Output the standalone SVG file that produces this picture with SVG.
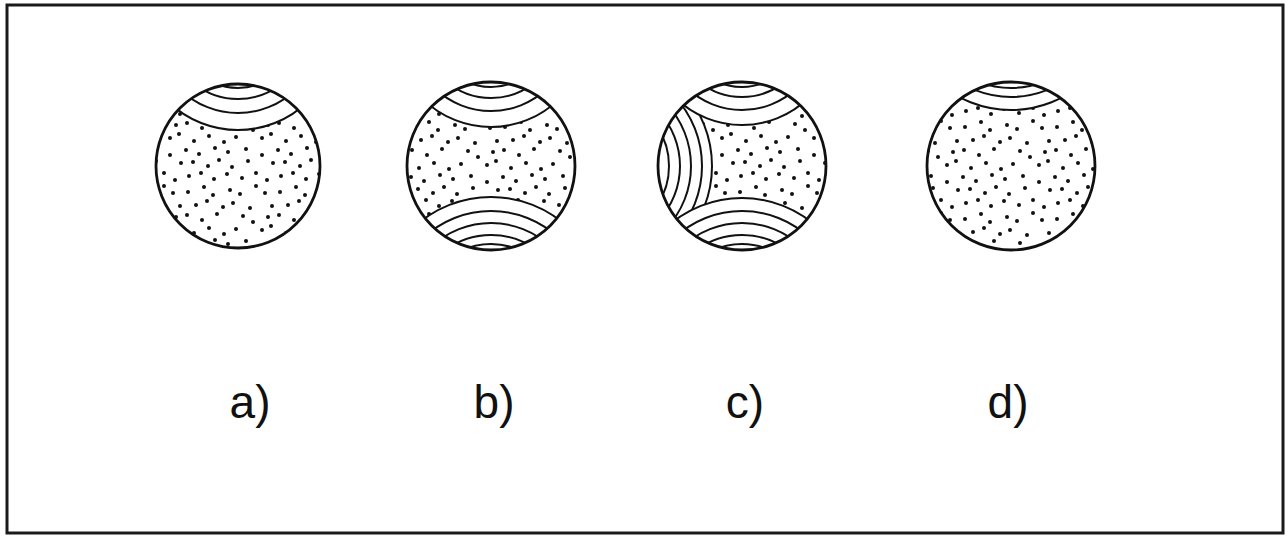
<svg xmlns="http://www.w3.org/2000/svg" xmlns:xlink="http://www.w3.org/1999/xlink" width="1286" height="536" viewBox="0 0 1286 536">
<style>
.frame{fill:#fff;stroke:#1a1a1a;stroke-width:3}
.cap{fill:#fff;stroke:#111;stroke-width:2}
.arc{fill:none;stroke:#111;stroke-width:2}
.outline{fill:none;stroke:#111;stroke-width:2.8}
.dot{fill:#111}
.lbl{font-family:"Liberation Sans","DejaVu Sans",sans-serif;font-size:46px;fill:#111;text-anchor:middle}
</style>
<defs>
<pattern id="dots" patternUnits="userSpaceOnUse" width="92" height="92">
<g class="dot">
<circle cx="4" cy="8" r="2"/><circle cx="20" cy="3" r="2"/><circle cx="29" cy="11" r="2"/><circle cx="46" cy="6" r="2"/><circle cx="56" cy="10" r="2"/><circle cx="72" cy="2" r="2"/><circle cx="81" cy="9" r="2"/>
<circle cx="12" cy="21" r="2"/><circle cx="23" cy="17" r="2"/><circle cx="39" cy="23" r="2"/><circle cx="49" cy="19" r="2"/><circle cx="66" cy="24" r="2"/><circle cx="88" cy="22" r="2"/>
<circle cx="3" cy="31" r="2"/><circle cx="18" cy="36" r="2"/><circle cx="33" cy="30" r="2"/><circle cx="59" cy="32" r="2"/><circle cx="69" cy="38" r="2"/><circle cx="84" cy="33" r="2"/>
<circle cx="10" cy="49" r="2"/><circle cx="25" cy="44" r="2"/><circle cx="40" cy="50" r="2"/><circle cx="52" cy="45" r="2"/><circle cx="78" cy="46" r="2"/><circle cx="87" cy="42" r="2"/>
<circle cx="2" cy="58" r="2"/><circle cx="15" cy="62" r="2"/><circle cx="31" cy="56" r="2"/><circle cx="44" cy="60" r="2"/><circle cx="62" cy="57" r="2"/><circle cx="78" cy="63" r="2"/>
<circle cx="9" cy="70" r="2"/><circle cx="24" cy="74" r="2"/><circle cx="35" cy="68" r="2"/><circle cx="48" cy="75" r="2"/><circle cx="64" cy="69" r="2"/><circle cx="89" cy="71" r="2"/>
<circle cx="5" cy="84" r="2"/><circle cx="17" cy="81" r="2"/><circle cx="30" cy="87" r="2"/><circle cx="43" cy="82" r="2"/><circle cx="58" cy="86" r="2"/><circle cx="72" cy="81" r="2"/><circle cx="83" cy="88" r="2"/>
</g>
</pattern>
<pattern id="dots2" href="#dots" patternTransform="translate(41,27)"/>
<clipPath id="ca"><circle cx="238" cy="166" r="82"/></clipPath>
<clipPath id="cb"><circle cx="491" cy="166" r="84"/></clipPath>
<clipPath id="cc"><circle cx="742" cy="166" r="84"/></clipPath>
<clipPath id="cd"><circle cx="1011" cy="166" r="84"/></clipPath>
</defs>

<rect id="frame" class="frame" x="7" y="5" width="1276" height="528"/>

<g id="grain-a">
<g clip-path="url(#ca)">
<circle cx="238" cy="166" r="82" fill="url(#dots)"/>
<circle class="cap" cx="238" cy="30" r="100"/>
<circle class="arc" cx="238" cy="30" r="83"/>
<circle class="arc" cx="238" cy="30" r="69"/>
<circle class="arc" cx="238" cy="30" r="58"/>
</g>
<circle class="outline" cx="238" cy="166" r="82"/>
</g>

<g id="grain-b">
<g clip-path="url(#cb)">
<circle cx="491" cy="166" r="84" fill="url(#dots2)"/>
<circle class="cap" cx="491" cy="30" r="97"/>
<circle class="arc" cx="491" cy="30" r="81"/>
<circle class="arc" cx="491" cy="30" r="68"/>
<circle class="arc" cx="491" cy="30" r="57"/>
<circle class="cap" cx="491" cy="310" r="113"/>
<circle class="arc" cx="491" cy="310" r="99"/>
<circle class="arc" cx="491" cy="310" r="87"/>
<circle class="arc" cx="491" cy="310" r="75"/>
<circle class="arc" cx="491" cy="310" r="66"/>
</g>
<circle class="outline" cx="491" cy="166" r="84"/>
</g>

<g id="grain-c">
<g clip-path="url(#cc)">
<circle cx="742" cy="166" r="84" fill="url(#dots)"/>
<circle class="cap" cx="600" cy="166" r="112"/>
<circle class="arc" cx="600" cy="166" r="102"/>
<circle class="arc" cx="600" cy="166" r="91"/>
<circle class="arc" cx="600" cy="166" r="80"/>
<circle class="arc" cx="600" cy="166" r="69"/>
<circle class="cap" cx="742" cy="30" r="95"/>
<circle class="arc" cx="742" cy="30" r="80"/>
<circle class="arc" cx="742" cy="30" r="67"/>
<circle class="arc" cx="742" cy="30" r="57"/>
<circle class="cap" cx="742" cy="310" r="112"/>
<circle class="arc" cx="742" cy="310" r="99"/>
<circle class="arc" cx="742" cy="310" r="87"/>
<circle class="arc" cx="742" cy="310" r="75"/>
<circle class="arc" cx="742" cy="310" r="66"/>
</g>
<circle class="outline" cx="742" cy="166" r="84"/>
</g>

<g id="grain-d">
<g clip-path="url(#cd)">
<circle cx="1011" cy="166" r="84" fill="url(#dots2)"/>
<circle class="cap" cx="1011" cy="0" r="110"/>
<circle class="arc" cx="1011" cy="0" r="97"/>
<circle class="arc" cx="1011" cy="0" r="88"/>
</g>
<circle class="outline" cx="1011" cy="166" r="84"/>
</g>

<g id="labels">
<text class="lbl" x="250" y="418">a)</text>
<text class="lbl" x="494" y="418">b)</text>
<text class="lbl" x="745" y="418">c)</text>
<text class="lbl" x="1008" y="418">d)</text>
</g>
</svg>
